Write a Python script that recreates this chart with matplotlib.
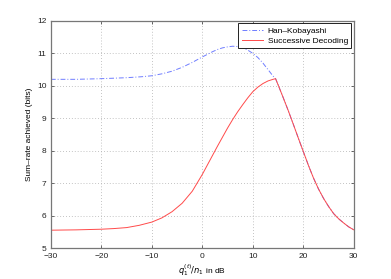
import numpy as np
import matplotlib.pyplot as plt

# values
x_hk = [-30, -25, -20, -15, -12, -10, -8, -6, -4, -2, 0, 1, 2, 3, 4, 5, 6, 7, 8, 9,
        10, 11, 12, 13, 14, 14.5,
        15, 16, 17, 18, 19, 20, 21, 22, 23, 24, 25, 26, 27, 28, 29, 30]
y_hk = [10.2, 10.2, 10.22, 10.25, 10.28, 10.31, 10.37, 10.45, 10.57, 10.72, 10.89,
        10.97, 11.05, 11.12, 11.17, 11.2, 11.22, 11.21, 11.17, 11.1,
        11.0, 10.87, 10.7, 10.5, 10.3, 10.22,
        10.03, 9.64, 9.24, 8.82, 8.39, 7.97, 7.55, 7.16, 6.82, 6.53, 6.28, 6.06,
        5.9, 5.77, 5.65, 5.56]

x_sd = [-30, -25, -20, -17.5, -15, -12.5, -10, -8, -6, -4, -2, 0, 1, 2, 3, 4, 5, 6,
        7, 8, 9, 10, 11, 12, 13, 14, 14.5,
        15, 16, 17, 18, 19, 20, 21, 22, 23, 24, 25, 26, 27, 28, 29, 30]
y_sd = [5.55, 5.56, 5.58, 5.6, 5.63, 5.7, 5.8, 5.93, 6.12, 6.38, 6.75, 7.27, 7.56,
        7.85, 8.14, 8.42, 8.7, 8.96, 9.2, 9.42, 9.63, 9.82, 9.96, 10.07, 10.15,
        10.2, 10.22,
        10.03, 9.64, 9.24, 8.82, 8.39, 7.97, 7.55, 7.16, 6.82, 6.53, 6.28, 6.06,
        5.9, 5.77, 5.65, 5.56]

plt.rcParams['font.family'] = ['Liberation Sans', 'DejaVu Sans']
plt.rcParams['font.size'] = 6

fig = plt.figure(figsize=(3.91, 2.79), dpi=100)
ax = fig.add_axes([0.130, 0.111, 0.775, 0.814])

ax.plot(x_hk, y_hk, color='#6f7dff', linestyle='-.', linewidth=0.7,
        dashes=(5, 2, 1, 2), label='Han–Kobayashi')
ax.plot(x_sd, y_sd, color='#ff4a4a', linestyle='-', linewidth=0.7,
        label='Successive Decoding')

ax.set_xlim(-30, 30)
ax.set_ylim(5, 12)
ax.set_xticks(np.arange(-30, 31, 10))
ax.set_yticks(np.arange(5, 13, 1))
ax.grid(True, linestyle=(0, (1, 2.5)), color='#b0b0b0', linewidth=0.6)
ax.tick_params(direction='in', length=2.5, width=0.5, top=True, right=True,
               colors='#333333', labelcolor='#222222')
ax.tick_params(axis='x', pad=3.5)
ax.tick_params(axis='y', pad=3)
for s in ax.spines.values():
    s.set_color('#777777')
    s.set_linewidth(0.9)

ax.set_xlabel('$q_1^{(t)}/n_1$ in dB', labelpad=1.5)
ax.set_ylabel('Sum–rate achieved (bits)', labelpad=3)

leg = ax.legend(loc='upper right', fancybox=False, framealpha=1, borderaxespad=0.3,
                handlelength=2.6, handletextpad=0.5, borderpad=0.4, labelspacing=0.3)
leg.get_frame().set_edgecolor('#222222')
leg.get_frame().set_linewidth(0.7)

fig.savefig('out.png', dpi=100)
